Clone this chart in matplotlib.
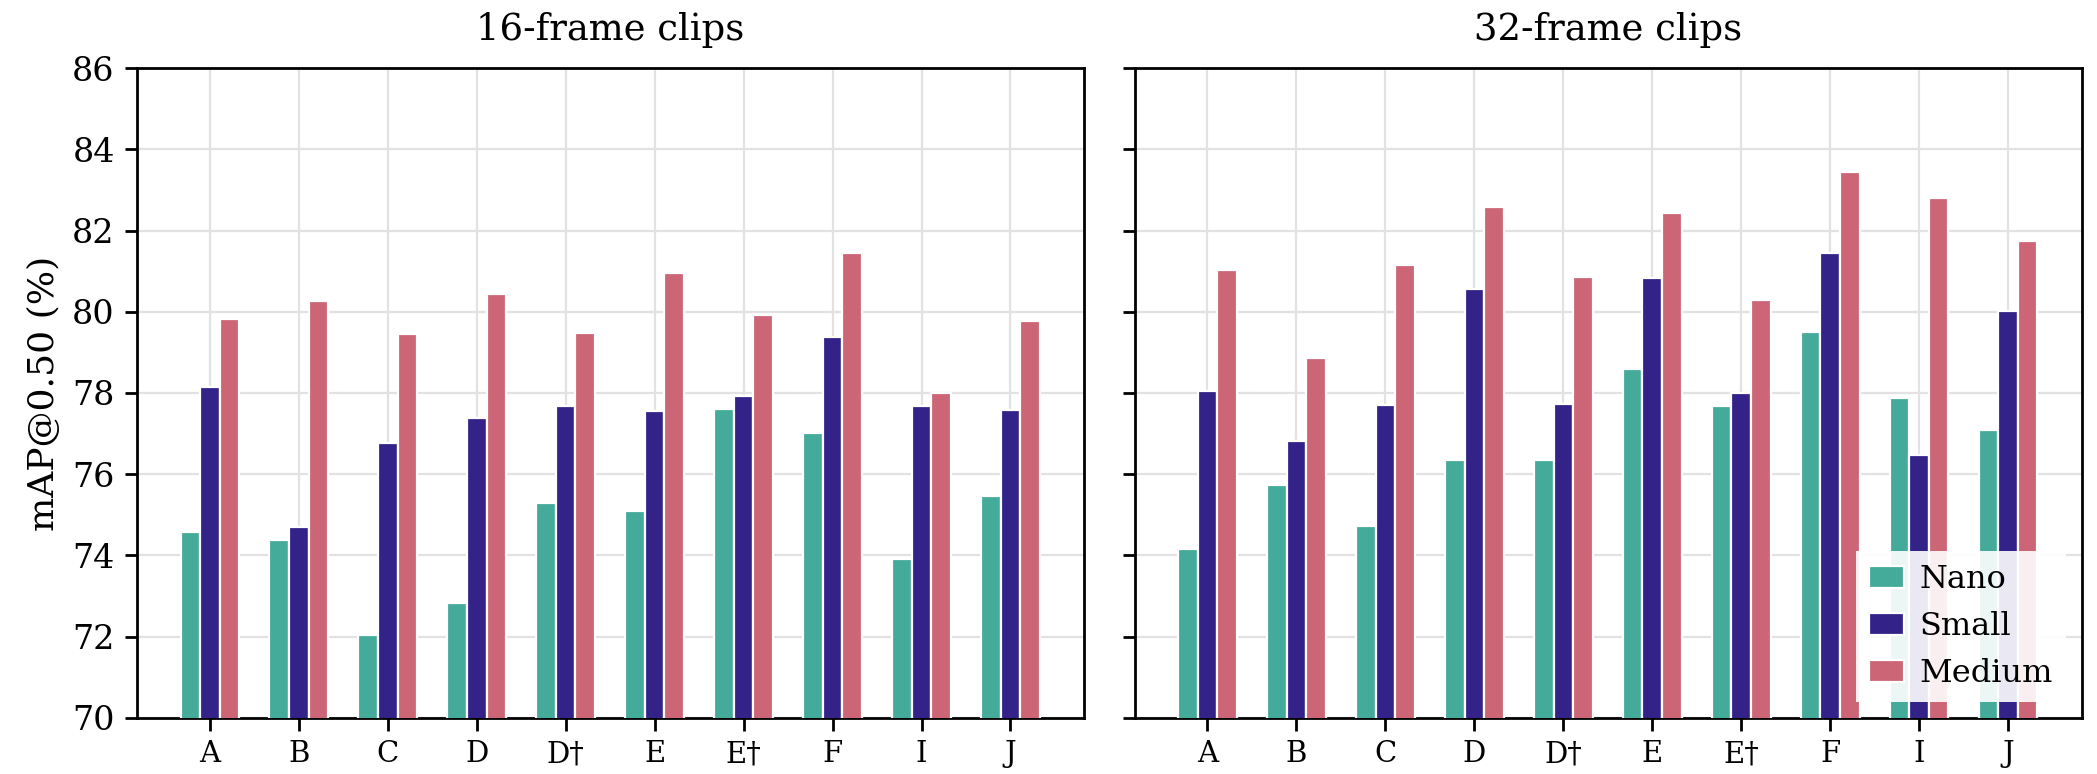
import numpy as np
import matplotlib
matplotlib.use("Agg")
import matplotlib.pyplot as plt

# ------------------------------------------------------------
#   DATA (mAP@0.50, %)
# ------------------------------------------------------------
configs = ["A", "B", "C", "D", "D\u2020", "E", "E\u2020", "F", "I", "J"]
models = ["Nano", "Small", "Medium"]
colors = ["#44AA99", "#332288", "#CC6677"]

nano_16 = [74.58, 74.39, 72.04, 72.84, 75.28, 75.09, 77.60, 77.01, 73.91, 75.46]
small_16 = [78.14, 74.70, 76.78, 77.38, 77.67, 77.56, 77.93, 79.38, 77.69, 77.59]
medium_16 = [79.81, 80.26, 79.46, 80.44, 79.47, 80.95, 79.93, 81.44, 78.01, 79.78]

nano_32 = [74.16, 75.73, 74.73, 76.34, 76.36, 78.59, 77.69, 79.49, 77.88, 77.08]
small_32 = [78.06, 76.83, 77.70, 80.56, 77.74, 80.82, 77.99, 81.44, 76.47, 80.01]
medium_32 = [81.04, 78.87, 81.16, 82.59, 80.85, 82.44, 80.30, 83.45, 82.79, 81.74]

panels = [
    ("16-frame clips", [nano_16, small_16, medium_16]),
    ("32-frame clips", [nano_32, small_32, medium_32]),
]

plt.rcParams["font.family"] = "DejaVu Serif"
plt.rcParams["axes.linewidth"] = 1.0


def draw_panel(ax, title, series):
    x = np.arange(len(configs))
    width = 0.22
    for k, (name, vals, c) in enumerate(zip(models, series, colors)):
        ax.bar(x + (k - 1) * width, vals, width, label=name, color=c,
               edgecolor="white", linewidth=0.8, zorder=3)
    ax.set_xticks(x)
    ax.set_xticklabels(configs, fontsize=10.5)
    ax.set_xlim(-0.82, len(configs) - 1 + 0.83)
    ax.set_ylim(70, 86)
    ax.set_yticks(np.arange(70, 87, 2))
    ax.tick_params(axis="y", labelsize=12, length=4.5, width=1.0)
    ax.tick_params(axis="x", length=4.5, width=1.0)
    ax.grid(True, color="#e2e2e2", linewidth=0.8, zorder=0)
    ax.set_axisbelow(True)
    ax.set_title(title, fontsize=13.3, pad=10)


fig, axes = plt.subplots(1, 2, figsize=(10.485, 3.87), dpi=200, sharey=True)
for ax, (title, series) in zip(axes, panels):
    draw_panel(ax, title, series)

axes[0].set_ylabel("mAP@0.50 (%)", fontsize=13)
axes[1].tick_params(axis="y", labelleft=False)
axes[1].legend(loc="lower right", fontsize=11.5, frameon=True, framealpha=0.9,
               edgecolor="none", fancybox=False, handlelength=1.1,
               handletextpad=0.5, labelspacing=0.5)

fig.subplots_adjust(left=0.0653, right=0.9928, bottom=0.0724, top=0.9121,
                    wspace=0.053)
fig.savefig("out.png", dpi=200)
